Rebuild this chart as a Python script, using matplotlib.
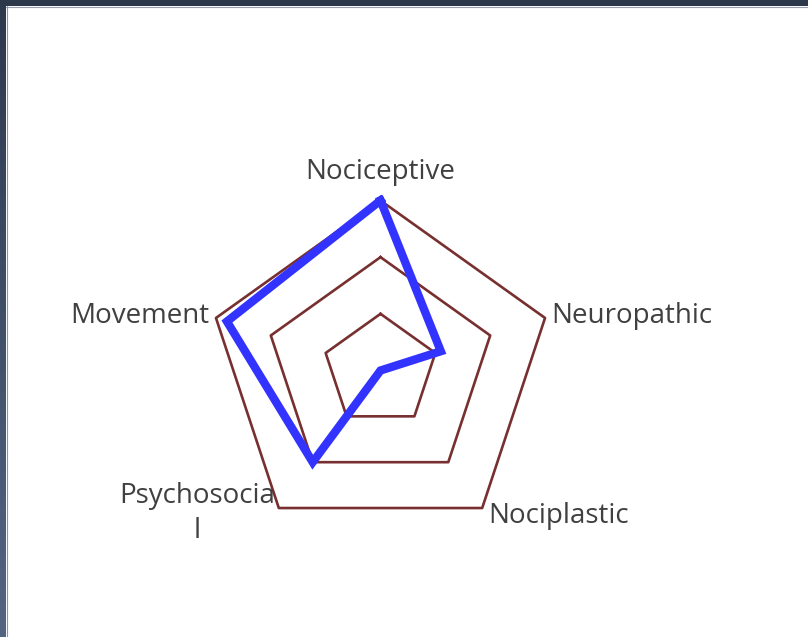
import numpy as np
import matplotlib.pyplot as plt

categories = ["Nociceptive", "Neuropathic", "Nociplastic", "Psychosocia\nl", "Movement"]
scores = [3.0, 1.1, 0.0, 2.0, 2.8]
rings = [1, 2, 3]

W, H = 808, 637
cx, cy, RX, RY = 380.5, 370.5, 173.0, 170.0


def main():
    fig = plt.figure(figsize=(W / 100, H / 100), dpi=100)
    fig.patch.set_facecolor("white")

    # slide-like dark frame on top and left
    bg = fig.add_axes([0, 0, 1, 1])
    bg.set_xlim(0, W)
    bg.set_ylim(H, 0)
    bg.axis("off")
    grad = np.linspace(0, 1, 256).reshape(-1, 1)
    bg.imshow(grad, cmap=plt.matplotlib.colors.LinearSegmentedColormap.from_list(
        "side", ["#2d394d", "#546584"]), extent=[0, 6, H, 0], aspect="auto")
    bg.add_patch(plt.Rectangle((0, 0), W, 6, color="#2e384b", lw=0))
    bg.plot([6, W], [6.5, 6.5], color="#9aa3b3", lw=0.8)
    bg.plot([6.5, 6.5], [6, H], color="#8a93a8", lw=0.8)

    ax = fig.add_axes([(cx - RX) / W, (H - cy - RY) / H, 2 * RX / W, 2 * RY / H],
                      projection="polar")
    ax.set_aspect("auto")
    ax.set_theta_zero_location("N")
    ax.set_theta_direction(-1)
    ax.set_ylim(0, 3)
    ax.axis("off")

    n = len(categories)
    theta = np.linspace(0, 2 * np.pi, n, endpoint=False)
    closed = np.append(theta, theta[0])

    for r in rings:
        ax.plot(closed, [r] * (n + 1), color="#772f2f", lw=1.9, clip_on=False)

    vals = np.append(scores, scores[0])
    ax.plot(closed, vals, color="#3333ff", lw=6, solid_joinstyle="miter",
            clip_on=False, zorder=3)

    style = dict(fontsize=20, color="#404040", family="Open Sans",
                 transform=ax.transData, clip_on=False)
    ax.text(theta[0], 3.5, categories[0], ha="center", va="center", **style)
    ax.text(theta[1], 3.12, categories[1], ha="left", va="center", **style)
    ax.text(theta[2], 3.17, categories[2], ha="left", va="center", **style)
    ax.text(theta[3], 3.12, categories[3], ha="right", va="center",
            multialignment="center", linespacing=1.35, **style)
    ax.text(theta[4], 3.12, categories[4], ha="right", va="center", **style)

    fig.savefig("out.png", dpi=100)


if __name__ == "__main__":
    main()
